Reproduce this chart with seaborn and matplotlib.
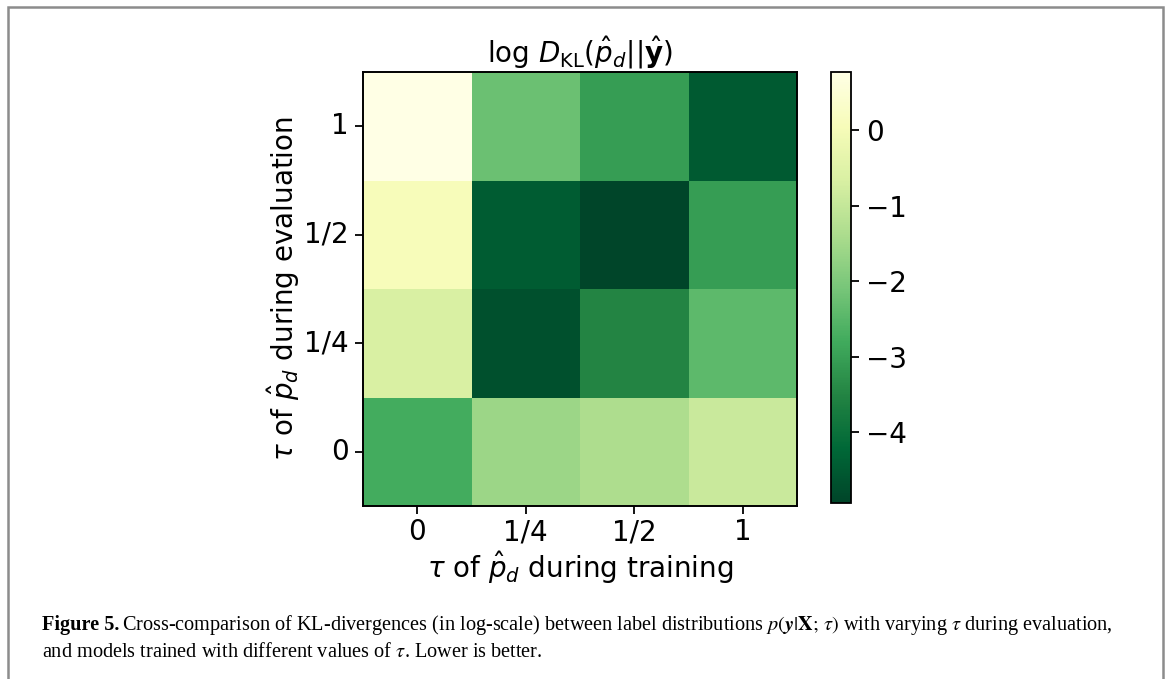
import numpy as np
import pandas as pd
import matplotlib
matplotlib.use("Agg")
import matplotlib.pyplot as plt
import seaborn as sns
from matplotlib.patches import Rectangle

# ---- data ----
train_labels = ["0", "1/4", "1/2", "1"]          # x: tau during training
eval_labels = ["1", "1/2", "1/4", "0"]           # y (top to bottom): tau during evaluation
row_eval_1 = [0.77, -2.25, -3.06, -4.50]
row_eval_half = [0.06, -4.45, -4.94, -3.06]
row_eval_quarter = [-0.66, -4.71, -3.51, -2.43]
row_eval_0 = [-2.77, -1.61, -1.37, -0.92]
cbar_ticks = [0, -1, -2, -3, -4]

title = r"log $D_{\mathrm{KL}}(\hat{p}_d||\hat{\mathbf{y}})$"
xlabel = r"$\tau$ of $\hat{p}_d$ during training"
ylabel = r"$\tau$ of $\hat{p}_d$ during evaluation"

df = pd.DataFrame([row_eval_1, row_eval_half, row_eval_quarter, row_eval_0],
                  index=eval_labels, columns=train_labels)

fig = plt.figure(figsize=(11.7, 6.79), dpi=100)
W, H = 1170, 679
ax = fig.add_axes([363 / W, 1 - 506 / H, 434 / W, 434 / H])
cax = fig.add_axes([831 / W, 1 - 503 / H, 20 / W, 431 / H])

sns.heatmap(df, cmap="YlGn_r", ax=ax, cbar_ax=cax, linewidths=0)

FS = 20
for s in ax.spines.values():
    s.set_visible(True)
    s.set_linewidth(1.4)
    s.set_color("black")
ax.tick_params(axis="both", labelsize=FS, length=6, width=1.3, colors="black", pad=4)
ax.tick_params(axis="x", pad=3)
ax.set_yticklabels(eval_labels, rotation=0)
ax.set_xticklabels(train_labels, rotation=0)
ax.set_xlabel(xlabel, fontsize=FS, labelpad=1.5)
ax.set_ylabel(ylabel, fontsize=FS, labelpad=1.5)
ax.set_title(title, fontsize=FS, pad=7)

cb = ax.collections[0].colorbar
cb.outline.set_linewidth(1.3)
cb.outline.set_edgecolor("black")
cb.set_ticks(cbar_ticks)
cax.tick_params(labelsize=FS, length=6, width=1.3, pad=5)

# ---- caption ----
cap_font = "Liberation Serif"
cap_size = 14.6
y1 = 1 - 630 / H
y2 = 1 - 657 / H
x0 = 42 / W
t1 = fig.text(x0, y1, "Figure 5.", fontsize=cap_size, family=cap_font,
              weight="bold", va="baseline", math_fontfamily="stix")
fig.canvas.draw()
r = fig.canvas.get_renderer()
bb = t1.get_window_extent(r)
fig.text(bb.x1 / W + 3 / W, y1,
         r"Cross-comparison of KL-divergences (in log-scale) between label distributions "
         r"$p(\boldsymbol{y}|\mathbf{X};\,\tau)$ with varying $\tau$ during evaluation,",
         fontsize=cap_size, family=cap_font, va="baseline", math_fontfamily="stix")
fig.text(x0, y2, r"and models trained with different values of $\tau$. Lower is better.",
         fontsize=cap_size, family=cap_font, va="baseline", math_fontfamily="stix")

# ---- frame ----
fig.patches.append(Rectangle((8 / W, -0.05), (1163 - 8) / W, 1.05 - 7 / H,
                             transform=fig.transFigure, fill=False,
                             edgecolor="#8c8c8c", linewidth=1.8))

fig.savefig("out.png", dpi=100)
